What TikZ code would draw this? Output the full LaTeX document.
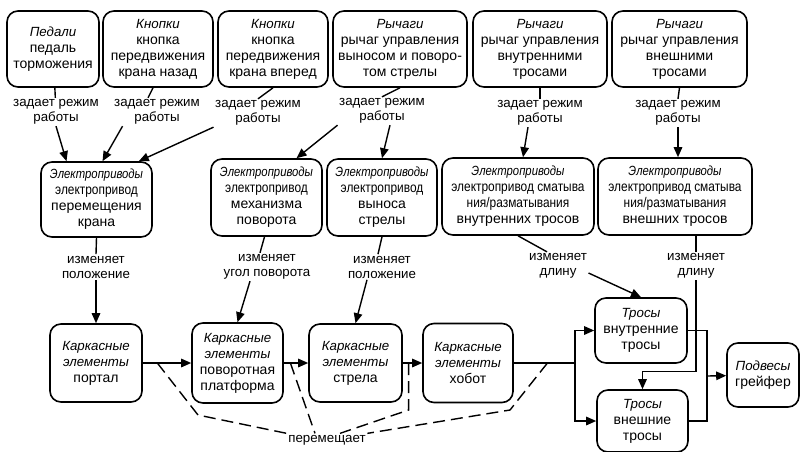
\documentclass[tikz,border=0pt]{standalone}
\usepackage{fontspec}
\setmainfont{Liberation Sans}
\newfontfamily\narrowfont[FakeStretch=0.85]{Liberation Sans}
\usepackage{tikz}
\usetikzlibrary{arrows,arrows.meta}
\newcommand{\catname}[1]{{\itshape\fontsize{13.3}{16}\selectfont #1}}
\newcommand{\ncatname}[1]{{\narrowfont\itshape\fontsize{13.3}{16}\selectfont #1}}
\newcommand{\nrw}[1]{{\narrowfont #1}}
\tikzset{
box/.style={draw, line width=1.6pt, rounded corners=11pt, align=center, inner sep=1pt, font=\fontsize{14}{16}\selectfont},
lbl/.style={align=center, inner sep=1.5pt, font=\fontsize{13.3}{15}\selectfont},
link/.style={line width=1.4pt},
go/.style={link, -{Triangle[length=10pt,width=8.5pt]}},
moves/.style={link, dash pattern=on 12pt off 6pt}
}

\begin{document}
\begin{tikzpicture}[x=1pt,y=-1pt]
   \useasboundingbox (0,0) rectangle (801,451);
   % controls
   \node[box, minimum width=92pt, minimum height=76pt] (ped) at (53,49) {\catname{Педали}\\педаль\\торможения};
   \node[box, minimum width=110pt, minimum height=76pt] (knb) at (158,49) {\catname{Кнопки}\\кнопка\\передвижения\\крана назад};
   \node[box, minimum width=110pt, minimum height=76pt] (knf) at (273,49) {\catname{Кнопки}\\кнопка\\передвижения\\крана вперед};
   \node[box, minimum width=134pt, minimum height=76pt] (ryst) at (400,49) {\catname{Рычаги}\\рычаг управления\\выносом и поворо-\\том стрелы};
   \node[box, minimum width=134pt, minimum height=76pt] (ryin) at (540,49) {\catname{Рычаги}\\рычаг управления\\внутренними\\тросами};
   \node[box, minimum width=135pt, minimum height=76pt] (ryout) at (679.5,49) {\catname{Рычаги}\\рычаг управления\\внешними\\тросами};

   \node[lbl] (l1) at (56,112) {задает режим\\работы};
   \node[lbl] (l2) at (157,112) {задает режим\\работы};
   \node[lbl] (l3) at (258,113) {задает режим\\работы};
   \node[lbl] (l4) at (382,111) {задает режим\\работы};
   \node[lbl] (l5) at (540,113) {задает режим\\работы};
   \node[lbl] (l6) at (678,113) {задает режим\\работы};

   % drives
   \node[box, minimum width=111pt, minimum height=75pt] (epk) at (96.5,199.5) {\ncatname{Электроприводы}\\\nrw{электропривод}\\перемещения\\крана};
   \node[box, minimum width=111pt, minimum height=77pt] (epm) at (266.5,197.5) {\ncatname{Электроприводы}\\\nrw{электропривод}\\механизма\\поворота};
   \node[box, minimum width=110pt, minimum height=77pt] (epv) at (382,197.5) {\ncatname{Электроприводы}\\\nrw{электропривод}\\выноса\\стрелы};
   \node[box, minimum width=152pt, minimum height=77pt] (epin) at (518,196.5) {\ncatname{Электроприводы}\\\nrw{электропривод сматыва}\\\nrw{ния/разматывания}\\внутренних тросов};
   \node[box, minimum width=154pt, minimum height=77pt] (epout) at (675,196.5) {\ncatname{Электроприводы}\\\nrw{электропривод сматыва}\\\nrw{ния/разматывания}\\внешних тросов};

   \node[lbl] (l7) at (96,267) {изменяет\\положение};
   \node[lbl] (l8) at (267,267) {изменяет\\угол поворота};
   \node[lbl] (l9) at (382,267) {изменяет\\положение};
   \node[lbl] (l10) at (558,266) {изменяет\\длину};
   \node[lbl] (l11) at (696,266) {изменяет\\длину};

   % frame, ropes, grab
   \node[box, minimum width=92pt, minimum height=78pt] (portal) at (96,363) {\catname{Каркасные}\\\catname{элементы}\\портал};
   \node[box, minimum width=91pt, minimum height=80pt] (platf) at (237.5,363) {\catname{Каркасные}\\\catname{элементы}\\поворотная\\платформа};
   \node[box, minimum width=93pt, minimum height=78pt] (strela) at (355.5,363) {\catname{Каркасные}\\\catname{элементы}\\стрела};
   \node[box, minimum width=90pt, minimum height=79pt] (hobot) at (468,363) {\catname{Каркасные}\\\catname{элементы}\\хобот};
   \node[box, minimum width=92pt, minimum height=65pt] (trin) at (641,330.5) {\catname{Тросы}\\внутренние\\тросы};
   \node[box, minimum width=91pt, minimum height=62pt] (trout) at (642.5,421) {\catname{Тросы}\\внешние\\тросы};
   \node[box, minimum width=72pt, minimum height=64pt] (podv) at (763,375) {\catname{Подвесы}\\грейфер};

   \node[lbl] (move) at (327,440) {перемещает};

   \coordinate (split) at (575,363);
   \coordinate (join) at (707,376);
   \coordinate (b1) at (198,415);
   \coordinate (b4) at (510,410);

   \draw[link] (ped) -- (l1);
   \draw[link] ([xshift=-5pt]knb.south) -- ([xshift=-9pt]l2.north);
   \draw[link] (knf.south) -- (l3.north);
   \draw[link] (ryst.south) -- (l4.north);
   \draw[link] (ryin.south) -- (l5.north);
   \draw[link] (ryout.south) -- (l6.north);

   \draw[go] (l1.south) -- ([xshift=-30pt]epk.north);
   \draw[go] ([xshift=10pt]l2.south west) -- ([xshift=6pt]epk.north);
   \draw[go] (l3.south west) -- ([xshift=-14pt]epk.north east);
   \draw[go] (l4.south west) -- ([xshift=30pt]epm.north);
   \draw[go] ([xshift=8pt]l4.south) -- (epv.north);
   \draw[go] ([xshift=-12pt]l5.south) -- ([xshift=5pt]epin.north);
   \draw[go] (l6.south) -- ([xshift=3pt]epout.north);

   \draw[link] (epk.south) -- (l7.north);
   \draw[link] ([xshift=-2pt]epm.south) -- ([xshift=-7pt]l8.north);
   \draw[link] (epv.south) -- ([xshift=-4pt]l9.north);
   \draw[link] (epin.south) -- ([xshift=-11pt]l10.north);
   \draw[link] ([xshift=21pt]epout.south) -- (l11.north);

   \draw[go] (l7) -- (portal);
   \draw[go] ([xshift=-17pt]l8.south) -- (platf.north);
   \draw[go] ([xshift=-15pt]l9.south) -- (strela.north);
   \draw[go] ([yshift=-7pt]l10.east) -- (trin.north);
   \draw[go] (l11.south) |- ([yshift=18pt]trout.north) -- (trout.north);

   \draw[go] (portal) -- coordinate[pos=.3] (p1) (platf);
   \draw[go] (platf) -- coordinate[pos=.27] (p2) (strela);
   \draw[go] (strela) -- coordinate[pos=.3] (p3) (hobot);
   \draw[link] (hobot) -- coordinate[pos=.55] (p4) (split);
   \draw[go] (split) |- (trin);
   \draw[go] (split) |- (trout);
   \draw[link] (trin) -| (join);
   \draw[link] (trout) -| (join);
   \draw[go] (join) -- (podv);

   \draw[moves] (p1) -- (b1) -- (move.north west);
   \draw[moves] (p2) -- ([xshift=-12pt]move.north);
   \draw[moves] (p3) -- (p3 |- b4) -- ([xshift=13pt]move.north);
   \draw[moves] (p4) -- (b4) -- (move.north east);
\end{tikzpicture}
\end{document}
